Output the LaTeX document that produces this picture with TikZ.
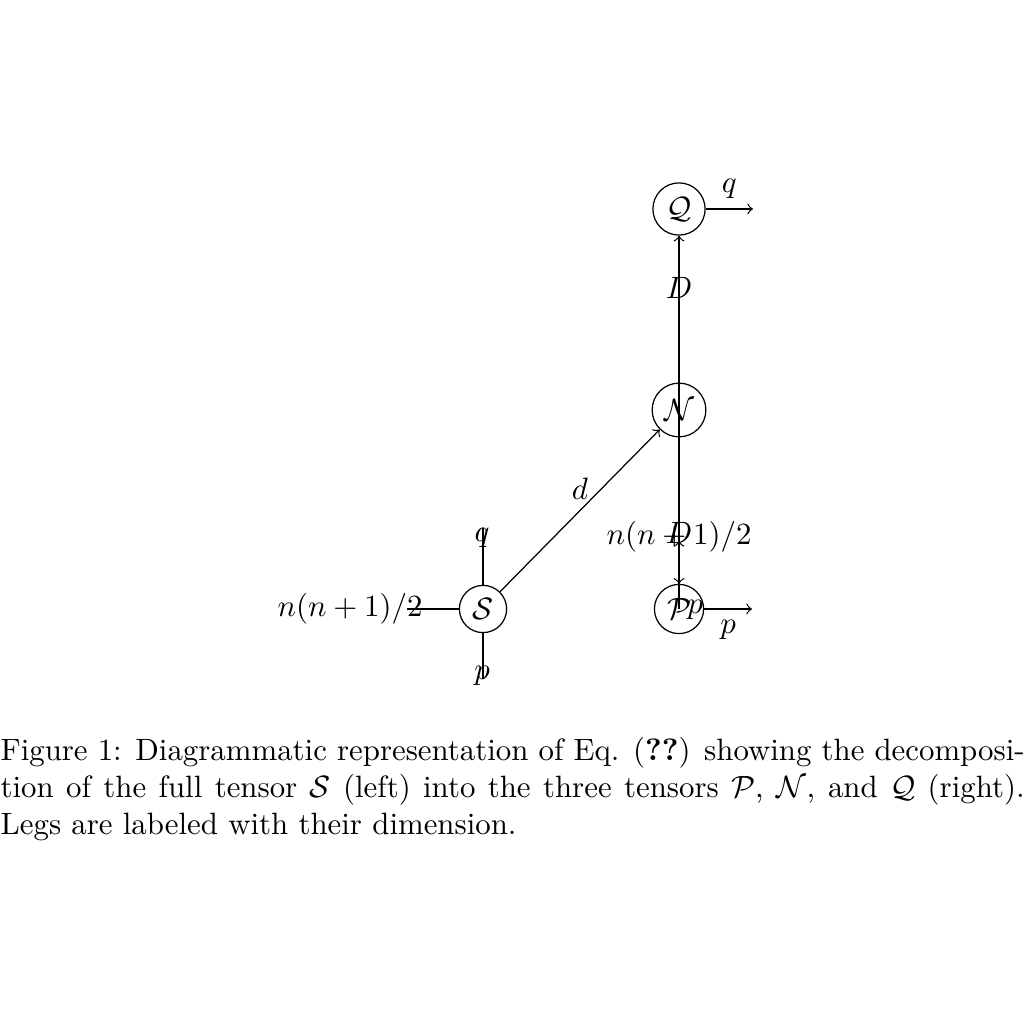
\documentclass[tikz,border=0pt]{standalone}
\begin{document}
\begin{tikzpicture}[x=0.3242pt,y=-0.3242pt,
  tensor/.style={circle,draw,inner sep=2pt},
  leglbl/.style={}]
\useasboundingbox (0,0) rectangle (1024,1024);
% tensors
\node[tensor] (S) at (483,609) {$\mathcal{S}$};
\node[tensor] (N) at (679,410) {$\mathcal{N}$};
\node[tensor] (Q) at (679,209) {$\mathcal{Q}$};
\node[tensor] (P) at (679,609) {$\mathcal{P}$};
% free legs of S
\coordinate (Sq) at (483,528);
\coordinate (Sp) at (483,679);
\coordinate (Sl) at (407,609);
\draw (S) -- (Sq);
\draw (S) -- (Sp);
\draw (S) -- (Sl);
\node[leglbl] (lq) at (482,538) {$q$};
\node[leglbl] (lp) at (482,676) {$p$};
\node[leglbl] (ln) at (350,609) {$n(n+1)/2$};
% internal connectors
\draw[->] (S) -- node[above] {$d$} (N);
\draw[->] (N) -- node[above] {$D$} (Q);
\draw[->] (N) -- node[below] {$n(n+1)/2$} (P);
\draw (N.north) -- (N.south);
\coordinate (Pt) at (679,541);
\draw[->] (P.center) -- (Pt);
\node[leglbl] (lD) at (679,533) {$D$};
\node[leglbl] (lpp) at (695,610) {$p$};
% free legs on the right
\coordinate (Qr) at (753,209);
\coordinate (Pr) at (752,609);
\draw[->] (Q) -- node[above] {$q$} (Qr);
\draw[->] (P) -- node[below] {$p$} (Pr);
% caption
\node[anchor=north west, inner sep=0pt, text width=332pt, align=justify] (cap) at (0,737)
{Figure 1: Diagrammatic representation of Eq. (\textbf{??}) showing the decomposi-\linebreak tion of the full tensor $\mathcal{S}$ (left) into the three tensors $\mathcal{P}$, $\mathcal{N}$, and $\mathcal{Q}$ (right).\linebreak Legs are labeled with their dimension.};
\end{tikzpicture}
\end{document}
